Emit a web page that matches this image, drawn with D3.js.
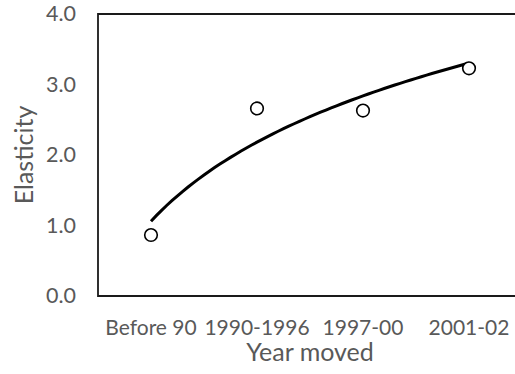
<!DOCTYPE html>
<html><head><meta charset="utf-8">
<script src="https://cdn.jsdelivr.net/npm/d3@7"></script>
<style>body{margin:0;background:#fff}svg{display:block}</style>
</head><body>
<svg id="c" width="515" height="374"></svg>
<script>
const categories = ["Before 90", "1990-1996", "1997-00", "2001-02"];
const elasticity = [0.865, 2.66, 2.63, 3.23];
const yTicks = [0, 1, 2, 3, 4];
const xTitle = "Year moved";
const yTitle = "Elasticity";

const svg = d3.select("#c");
const m = {left: 98, top: 14, right: 522, bottom: 296};
const x = d3.scaleBand().domain(categories).range([m.left, m.right]);
const y = d3.scaleLinear().domain([0, 4]).range([m.bottom, m.top]);
const cx = c => x(c) + x.bandwidth() / 2;
const font = "Lato, 'Open Sans', sans-serif";
const grey = "#595959";

// frame
svg.append("path")
  .attr("d", `M${m.right},${m.top}H${m.left}V${m.bottom}H${m.right}`)
  .attr("fill", "none").attr("stroke", "#1a1a1a").attr("stroke-width", 1.8);

// y axis labels
const yAxis = d3.axisLeft(y).tickValues(yTicks).tickFormat(d3.format(".1f")).tickSize(0).tickPadding(22);
const gy = svg.append("g").attr("transform", `translate(${m.left},0)`).call(yAxis);
gy.select(".domain").remove();
gy.selectAll("text").attr("font-family", font).attr("font-size", 21.5).attr("fill", grey);

// x axis labels
const xAxis = d3.axisBottom(x).tickSize(0).tickPadding(0);
const gx = svg.append("g").attr("transform", `translate(0,${m.bottom})`).call(xAxis);
gx.select(".domain").remove();
gx.selectAll("text").attr("font-family", font).attr("font-size", 21).attr("fill", grey)
  .attr("dy", null).attr("y", 39);

// logarithmic trendline y = a ln(i) + b fitted on the data
const L = elasticity.map((_, i) => Math.log(i + 1));
const ml = d3.mean(L), my = d3.mean(elasticity);
const a = d3.sum(L, (l, i) => (l - ml) * (elasticity[i] - my)) / d3.sum(L, l => (l - ml) ** 2);
const b = my - a * ml;
const xi = d3.scaleLinear().domain([1, categories.length]).range([cx(categories[0]), cx(categories[categories.length - 1])]);
const pts = d3.range(1, categories.length + 0.001, 0.05).map(t => [xi(t), y(a * Math.log(t) + b)]);
svg.append("path").attr("d", d3.line()(pts)).attr("fill", "none")
  .attr("stroke", "#000").attr("stroke-width", 3);

// points
svg.selectAll("circle.pt").data(elasticity).join("circle")
  .attr("class", "pt")
  .attr("cx", (d, i) => cx(categories[i])).attr("cy", d => y(d)).attr("r", 6.3)
  .attr("fill", "#fff").attr("stroke", "#000").attr("stroke-width", 1.6);

// titles
svg.append("text").attr("x", (m.left + m.right) / 2).attr("y", 361)
  .attr("text-anchor", "middle").attr("font-family", font).attr("font-size", 25)
  .attr("fill", grey).text(xTitle);
svg.append("text").attr("transform", `translate(33,${(m.top + m.bottom) / 2}) rotate(-90)`)
  .attr("text-anchor", "middle").attr("font-family", font).attr("font-size", 25)
  .attr("fill", grey).text(yTitle);
</script>
</body></html>
